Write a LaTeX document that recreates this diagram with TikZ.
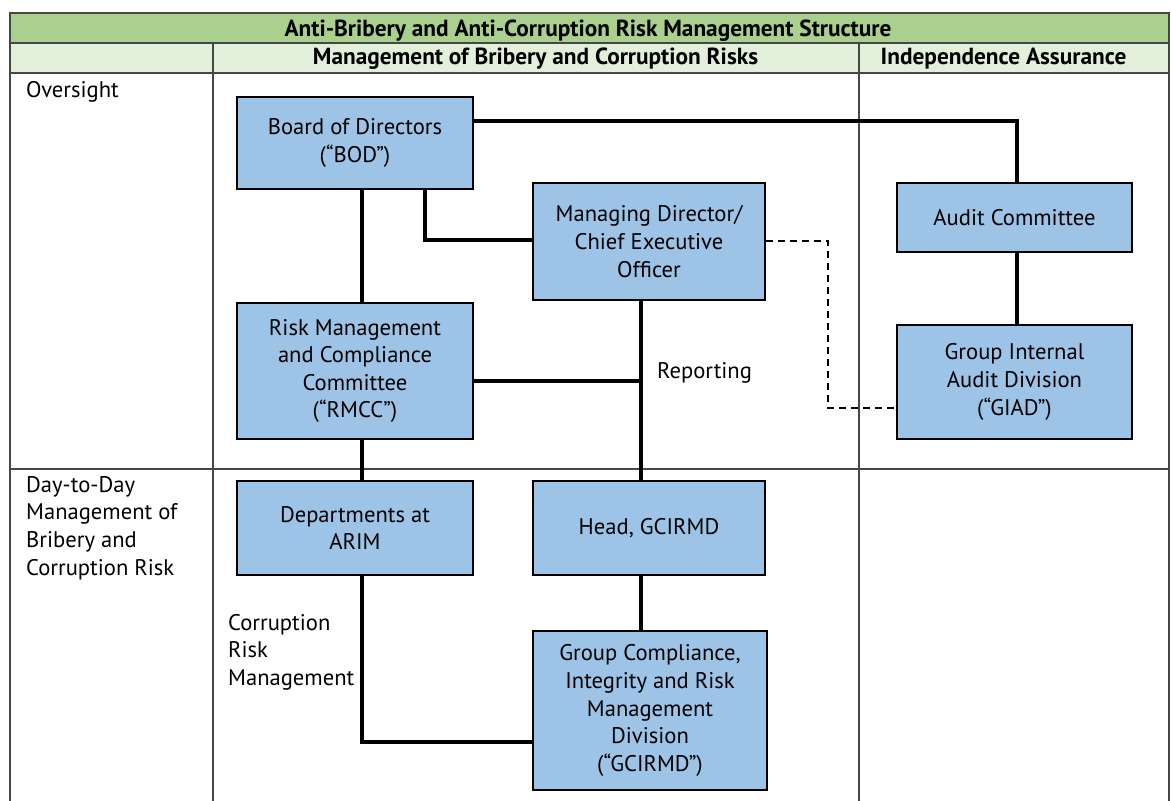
\documentclass[tikz,border=0pt]{standalone}
\usepackage{fontspec}
\setmainfont{PT Sans}
\definecolor{hdrgreen}{RGB}{169,208,142}
\definecolor{subgreen}{RGB}{226,239,218}
\definecolor{boxblue}{RGB}{157,195,230}
\definecolor{gridgray}{RGB}{70,70,70}
\tikzset{
  box/.style={draw=black, line width=2.8pt, fill=boxblue, align=center, inner sep=2pt,
    font=\fontsize{22.6}{27.6}\selectfont},
  conn/.style={draw=black, line width=3.4pt},
  dconn/.style={draw=black, line width=1.8pt, dash pattern=on 7pt off 5pt},
  grid/.style={draw=gridgray, line width=1.3pt},
  lbl/.style={inner sep=0pt, align=left, font=\fontsize{22.6}{27.6}\selectfont},
  hdr/.style={inner sep=0pt, anchor=base, font=\fontsize{23.3}{26}\selectfont\bfseries}
}
\begin{document}
\begin{tikzpicture}[x=1pt,y=-1pt]
\useasboundingbox (0,0) rectangle (1171,801);
\fill[white] (0,0) rectangle (1171,801);
% header rows
\fill[hdrgreen] (10,13) rectangle (1169,43);
\fill[subgreen] (10,43) rectangle (1169,73);
\draw[grid] (10,801) -- (10,13) -- (1169,13) -- (1169,801);
\draw[grid] (10,43) -- (1169,43);
\draw[grid] (10,73) -- (1169,73);
\draw[grid] (213,43) -- (213,801);
\draw[grid] (859,43) -- (859,801);
\draw[grid] (10,469) -- (1169,469);
\node[hdr] (title) at (588,36) {Anti-Bribery and Anti-Corruption Risk Management Structure};
\node[hdr] (colA) at (535.5,64) {Management of Bribery and Corruption Risks};
\node[hdr] (colB) at (1003.5,64) {Independence Assurance};
% row labels
\node[lbl, anchor=base west] (over) at (26,97) {Oversight};
\node[lbl, anchor=north west] (daytoday) at (26,476) {Day-to-Day\\Management of\\Bribery and\\Corruption Risk};
% boxes
\node[box, minimum width=236pt, minimum height=92pt] (bod) at (355,143) {Board of Directors\\(“BOD”)};
\node[box, minimum width=232pt, minimum height=117pt] (ceo) at (649,241.5) {Managing Director/\\Chief Executive\\Officer};
\node[box, minimum width=235pt, minimum height=69pt] (audit) at (1014.5,217.5) {Audit Committee};
\node[box, minimum width=236pt, minimum height=136pt] (rmcc) at (355,371) {Risk Management\\and Compliance\\Committee\\(“RMCC”)};
\node[box, minimum width=235pt, minimum height=114pt] (giad) at (1014.5,382) {Group Internal\\Audit Division\\(“GIAD”)};
\node[box, minimum width=236pt, minimum height=94pt] (arim) at (355,528) {Departments at\\ARIM};
\node[box, minimum width=232pt, minimum height=94pt] (head) at (649,528) {Head, GCIRMD};
\node[box, minimum width=234pt, minimum height=159pt] (gcirmd) at (650,710.5) {Group Compliance,\\Integrity and Risk\\Management\\Division\\(“GCIRMD”)};
% labels
\node[lbl, anchor=base west] (reporting) at (657,378) {Reporting};
\node[lbl, anchor=north west] (crm) at (228,614) {Corruption\\Risk\\Management};
% connectors
\coordinate (topjoin) at (1017,121);
\draw[conn] (bod.east |- topjoin) -- (topjoin) -- (audit.north -| topjoin);
\draw[conn] (bod.south -| 362,0) -- (rmcc.north -| 362,0);
\coordinate (ceojoin) at (425,240);
\draw[conn] (bod.south -| ceojoin) -- (ceojoin) -- (ceo.west |- ceojoin);
\draw[conn] (ceo.south -| 641,0) -- (head.north -| 641,0);
\coordinate (repjoin) at (641,381);
\draw[conn] (rmcc.east |- repjoin) -- (repjoin);
\coordinate (d1) at (828,241);
\coordinate (d2) at (828,408);
\draw[dconn] (ceo.east |- d1) -- (d1) -- (d2) -- (giad.west |- d2);
\draw[conn] (audit.south -| topjoin) -- (giad.north -| topjoin);
\draw[conn] (rmcc.south -| 362,0) -- (arim.north -| 362,0);
\draw[conn] (head.south -| 641,0) -- (gcirmd.north -| 641,0);
\coordinate (bl) at (362,742);
\draw[conn] (arim.south -| bl) -- (bl) -- (gcirmd.west |- bl);
\end{tikzpicture}
\end{document}
